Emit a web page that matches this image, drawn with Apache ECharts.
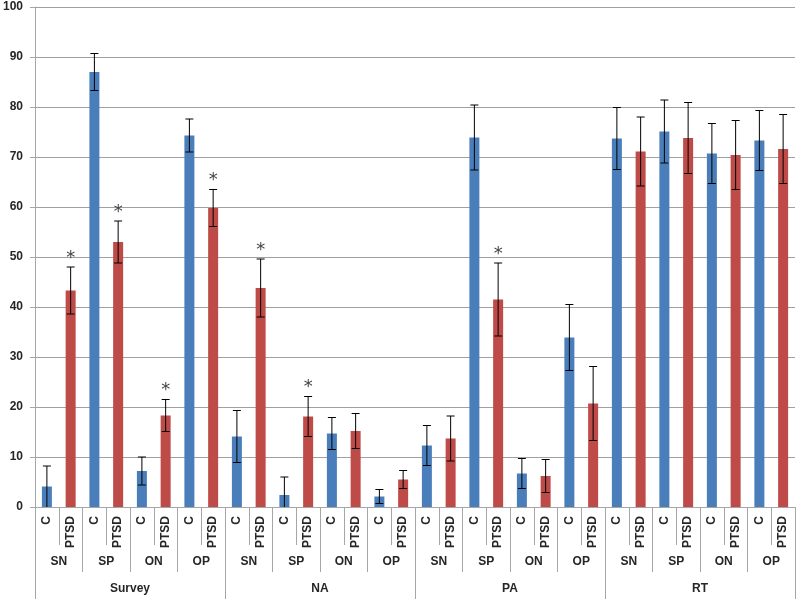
<!DOCTYPE html>
<html>
<head>
<meta charset="utf-8">
<script src="https://cdn.jsdelivr.net/npm/echarts@6/dist/echarts.min.js"></script>
<style>html,body{margin:0;padding:0;background:#fff}#main{width:800px;height:603px}</style>
</head>
<body>
<div id="main"></div>
<script>
// ---- data ----
const groups = ['Survey', 'NA', 'PA', 'RT'];
const subgroups = ['SN', 'SP', 'ON', 'OP'];
const conditions = ['C', 'PTSD'];
const yTicks = [0, 10, 20, 30, 40, 50, 60, 70, 80, 90, 100];
// order: Survey SN,SP,ON,OP | NA ... | PA ... | RT ...
const cMeans    = [4.1, 87.0, 7.2, 74.3,  14.1, 2.4, 14.7, 2.1,  12.3, 73.9, 6.7, 33.9,  73.7, 75.1, 70.7, 73.3];
const cErrors   = [4.1, 3.7, 2.8, 3.3,    5.2, 3.6, 3.2, 1.4,    4.0, 6.5, 3.0, 6.6,     6.2, 6.3, 6.0, 6.0];
const ptsdMeans = [43.3, 53.0, 18.3, 59.8, 43.8, 18.1, 15.2, 5.5, 13.7, 41.5, 6.2, 20.7, 71.1, 73.8, 70.4, 71.6];
const ptsdErrors= [4.7, 4.2, 3.2, 3.7,    5.8, 4.0, 3.5, 1.8,    4.5, 7.3, 3.3, 7.4,     6.9, 7.1, 6.9, 6.9];
const ptsdSignificant = [1, 1, 1, 1,  1, 1, 0, 0,  0, 1, 0, 0,  0, 0, 0, 0];

// ---- build ----
const subCats = [];
groups.forEach(g => subgroups.forEach(s => subCats.push(s)));
const barCats = [];
subCats.forEach(() => conditions.forEach(c => barCats.push(c)));
const cSeries = [], pSeries = [], errData = [];
cMeans.forEach((v, i) => {
  cSeries.push(v, null);
  pSeries.push(null, ptsdMeans[i]);
  errData.push([2 * i, v, cErrors[i], 0]);
  errData.push([2 * i + 1, ptsdMeans[i], ptsdErrors[i], ptsdSignificant[i]]);
});

const FONT = 'Liberation Sans';
const gray = '#a6a6a6';
const labelColor = '#262626';

const chart = echarts.init(document.getElementById('main'), null, {renderer: 'canvas'});
chart.setOption({
  animation: false,
  backgroundColor: '#fff',
  grid: {left: 34, right: 5, top: 7, bottom: 96, containLabel: false},
  xAxis: [
    {
      type: 'category', data: barCats, position: 'bottom',
      axisLine: {show: true, lineStyle: {color: gray, width: 1}},
      axisTick: {show: true, interval: 0, length: 38, lineStyle: {color: gray}},
      axisLabel: {interval: 0, rotate: 90, margin: 9, fontFamily: FONT, fontWeight: 'bold', fontSize: 12, color: labelColor}
    },
    {
      type: 'category', data: subCats, position: 'bottom',
      axisLine: {show: false},
      axisTick: {show: true, interval: 0, length: 65, lineStyle: {color: gray}},
      axisLabel: {interval: 0, margin: 49, fontFamily: FONT, fontWeight: 'bold', fontSize: 12, color: labelColor}
    },
    {
      type: 'category', data: groups, position: 'bottom',
      axisLine: {show: false},
      axisTick: {show: true, interval: 0, length: 92, lineStyle: {color: gray}},
      axisLabel: {interval: 0, margin: 76, fontFamily: FONT, fontWeight: 'bold', fontSize: 12, color: labelColor}
    }
  ],
  yAxis: {
    type: 'value', min: yTicks[0], max: yTicks[yTicks.length - 1], interval: 10,
    axisLine: {show: true, lineStyle: {color: gray}},
    axisTick: {show: true, length: 5, lineStyle: {color: gray}},
    splitLine: {show: true, lineStyle: {color: '#a0a0a0', width: 1}},
    axisLabel: {margin: 12, fontFamily: FONT, fontWeight: 'bold', fontSize: 12, color: labelColor}
  },
  series: [
    {type: 'bar', name: 'C', data: cSeries, barWidth: 10, barGap: '-100%', itemStyle: {color: '#4a7ebb'}},
    {type: 'bar', name: 'PTSD', data: pSeries, barWidth: 10, barGap: '-100%', itemStyle: {color: '#be4b48'}},
    {
      type: 'custom', name: 'err', data: errData, z: 10,
      renderItem: function (params, api) {
        const x = api.value(0), m = api.value(1), e = api.value(2), sig = api.value(3);
        const top = api.coord([x, m + e]);
        const lowVal = Math.max(0, m - e);
        const bot = api.coord([x, lowVal]);
        const hw = 4;
        const style = {stroke: '#000', lineWidth: 1};
        const children = [
          {type: 'line', shape: {x1: top[0], y1: top[1], x2: bot[0], y2: bot[1]}, style: style},
          {type: 'line', shape: {x1: top[0] - hw, y1: top[1], x2: top[0] + hw, y2: top[1]}, style: style}
        ];
        if (m - e > 0) {
          children.push({type: 'line', shape: {x1: bot[0] - hw, y1: bot[1], x2: bot[0] + hw, y2: bot[1]}, style: style});
        }
        if (sig) {
          children.push({type: 'text', style: {text: '*', x: top[0], y: top[1] - 18, align: 'center', verticalAlign: 'top', font: '18px DejaVu Sans', fill: '#444'}});
        }
        return {type: 'group', children: children};
      }
    }
  ]
});
</script>
</body>
</html>
